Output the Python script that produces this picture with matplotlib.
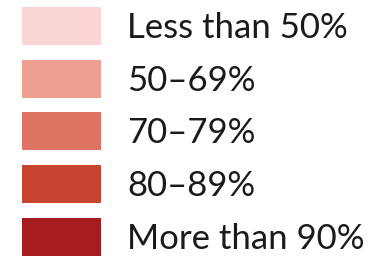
import numpy as np
import matplotlib.pyplot as plt

labels = ['Less than 50%', '50–69%', '70–79%', '80–89%', 'More than 90%']
colors = ['#fbd5d6', '#eea192', '#df7363', '#c8432f', '#a61b1d']

fig = plt.figure(figsize=(3.75, 2.58), dpi=100)
ax = fig.add_axes([0, 0, 1, 1])
ax.set_xlim(0, 375)
ax.set_ylim(258, 0)
ax.axis('off')

pitch = 52.7
y = 26 + pitch * np.arange(len(labels))
ax.barh(y, 79, height=38, left=22, color=colors)
for yi, lab in zip(y, labels):
    ax.text(127, yi + 12, lab, fontsize=25, family='Lato', color='#1a1a1a',
            va='baseline', ha='left')

fig.savefig('out.png', dpi=100)
